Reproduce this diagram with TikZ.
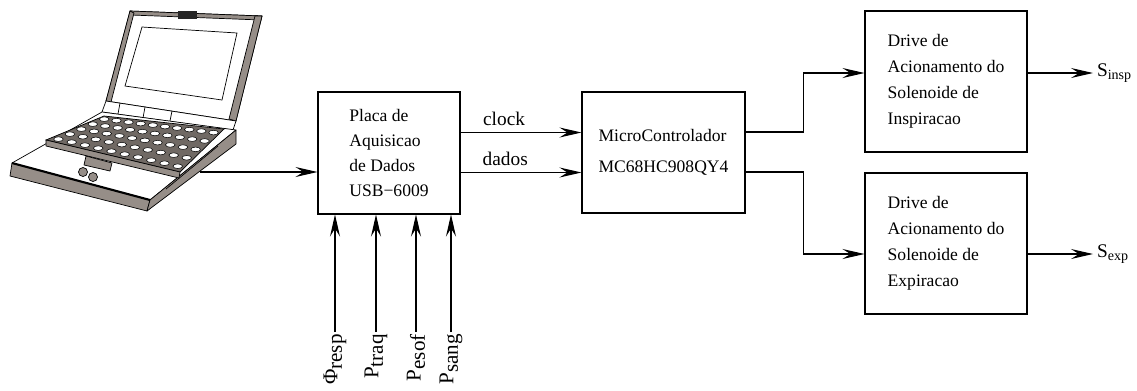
\documentclass[tikz,border=0pt]{standalone}
\usepackage{fontspec}
\setmainfont{Liberation Serif}
\usetikzlibrary{arrows.meta}
\definecolor{casegray}{RGB}{150,142,136}
\definecolor{keygray}{RGB}{112,105,100}
\begin{document}
\begin{tikzpicture}
[x=0.02cm,y=-0.02cm,line width=0.6pt,
 block/.style={draw,rectangle,align=left,font=\fontsize{10}{14.2}\selectfont},
 sig/.style={-{Stealth[length=0.44cm,width=0.2cm,inset=0.16cm]}},
 casepart/.style={fill=casegray,draw,line width=0.4pt,line join=round},
 siglabel/.style={font=\fontsize{11}{13}\selectfont}]
\useasboundingbox (0,0) rectangle (1137,390);

%% notebook: lid and screen
\draw[fill=white,line width=0.4pt,line join=round] (130,11) -- (262,16) -- (236,121) -- (106,101) -- cycle;
\draw[casepart] (130,11) -- (262,16) -- (261,20) -- (131,15) -- cycle;
\draw[casepart] (255,16) -- (262,16) -- (236,121) -- (229,119) -- cycle;
\draw[casepart] (130,11) -- (134,13) -- (111,102) -- (106,101) -- cycle;
\draw[fill=white,line width=0.4pt] (142,27) -- (237,33) -- (222,100) -- (125,86) -- cycle;
\fill[black!85] (178,11) rectangle (197,19);
%% hinge
\draw[fill=white,line width=0.4pt] (106,101) -- (236,121) -- (233,130) -- (102,112) -- cycle;
\foreach \hx/\ht/\hb in {120/103/114, 145/107/118, 172/111/121}
{
  \draw[line width=0.4pt] (\hx,\ht) -- (\hx-2,\hb);
}
%% base with palm rest
\draw[fill=white,line width=0.4pt,line join=round] (12,163) -- (102,112) -- (236,130) -- (150,200) -- cycle;
\draw[casepart] (12,163) -- (150,200) -- (147,211) -- (10,176) -- cycle;
\draw[casepart] (150,200) -- (236,130) -- (236,144) -- (147,211) -- cycle;
\draw[line width=0.4pt] (218,146) -- (166,189);
\draw[line width=1.2pt] (12,163) -- (150,200);
%% keyboard
\draw[fill=keygray,line width=0.4pt] (46,140) -- (104,116) -- (224,129) -- (180,172) -- cycle;
\draw[casepart] (46,140) -- (180,172) -- (179,178) -- (46,146) -- cycle;
\foreach \i in {0,...,9}
{
  \foreach \j in {0,...,4}
  {
    \pgfmathsetmacro{\ku}{(\i+0.5)/10}
    \pgfmathsetmacro{\kv}{(\j+0.5)/5}
    \pgfmathsetmacro{\kx}{46*(1-\ku)*(1-\kv)+180*\ku*(1-\kv)+104*(1-\ku)*\kv+224*\ku*\kv}
    \pgfmathsetmacro{\ky}{140*(1-\ku)*(1-\kv)+172*\ku*(1-\kv)+116*(1-\ku)*\kv+129*\ku*\kv}
    \draw[fill=white,line width=0.3pt] (\kx,\ky) ellipse [x radius=4.8, y radius=2.3];
  }
}
%% pointer tab and buttons
\draw[casepart] (86,156) -- (112,163) -- (110,171) -- (84,165) -- cycle;
\draw[casepart] (83,172) circle [radius=4.5];
\draw[casepart] (93,177) circle [radius=4.5];

%% blocks
\node[block,minimum width=2.84cm,minimum height=2.44cm] (placa) at (389,153)
  {Placa de\\Aquisicao\\de Dados\\USB−6009};
\node[block,minimum width=3.26cm,minimum height=2.42cm,font=\fontsize{10}{18}\selectfont] (micro) at (663.5,152.5)
  {MicroControlador\\MC68HC908QY4};
\node[block,minimum width=3.24cm,minimum height=2.82cm,font=\fontsize{10}{14.8}\selectfont] (drvinsp) at (946,81.5)
  {Drive de\\Acionamento do\\Solenoide de\\Inspiracao};
\node[block,minimum width=3.24cm,minimum height=2.82cm,font=\fontsize{10}{14.8}\selectfont] (drvexp) at (946,243.5)
  {Drive de\\Acionamento do\\Solenoide de\\Expiracao};

%% connections
\coordinate (pc) at (200,172);
\draw[sig] (pc) -- (pc -| placa.west);
\draw[sig] ([yshift=0.41cm]placa.east) -- node[above,pos=0.36,siglabel] {clock} ([yshift=0.41cm]placa.east -| micro.west);
\draw[sig] ([yshift=-0.39cm]placa.east) -- node[above,pos=0.37,siglabel] {dados} ([yshift=-0.39cm]placa.east -| micro.west);
\draw[sig] ([yshift=0.41cm]micro.east) -- ++(1.16cm,0) |- ([yshift=0.17cm]drvinsp.west);
\draw[sig] ([yshift=-0.39cm]micro.east) -- ++(1.16cm,0) |- ([yshift=-0.21cm]drvexp.west);

%% outputs
\node[right,inner sep=2pt,siglabel] (sinsp) at (1093,73) {S\raisebox{-0.3ex}{\fontsize{8}{9}\selectfont insp}};
\node[right,inner sep=2pt,siglabel] (sexp) at (1093,254) {S\raisebox{-0.3ex}{\fontsize{8}{9}\selectfont exp}};
\draw[sig] (sinsp.west -| drvinsp.east) -- (sinsp.west);
\draw[sig] (sexp.west -| drvexp.east) -- (sexp.west);

%% measured inputs
\foreach \px/\lab/\nm in {335/Φ/resp, 376/P/traq, 416/P/esof, 451/P/sang}
{
  \node[rotate=90,anchor=east,inner sep=1pt,font=\fontsize{12}{14}\selectfont] (in\nm) at (\px,332)
    {\lab\raisebox{-0.45ex}{\nm}};
  \draw[sig] (in\nm.east) -- (in\nm.east |- placa.south);
}
\end{tikzpicture}
\end{document}
